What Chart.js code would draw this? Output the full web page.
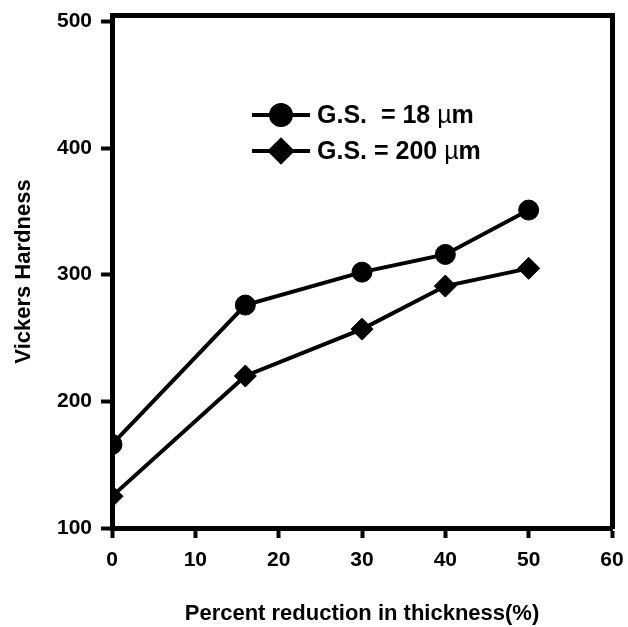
<!DOCTYPE html>
<html>
<head>
<meta charset="utf-8">
<script src="https://cdn.jsdelivr.net/npm/chart.js@4.4.1/dist/chart.umd.min.js"></script>
<style>
  html, body { margin: 0; padding: 0; background: #fff; }
  #wrap { width: 628px; height: 627px; position: relative; }
</style>
</head>
<body>
<div id="wrap"><canvas id="chart"></canvas></div>
<script>
// Vickers hardness vs percent reduction in thickness
const reductionFine   = [0, 16, 30, 40, 50];
const hardnessFine    = [166, 276, 302, 316, 351];
const reductionCoarse = [0, 16, 30, 40, 50];
const hardnessCoarse  = [125, 220, 257, 291, 305];

const seriesLabels = ['G.S.  = 18 ', 'G.S. = 200 '];
const unitLabel = ['\u00b5', 'm'];
const xTicks = [0, 10, 20, 30, 40, 50, 60];
const yTicks = [100, 200, 300, 400, 500];

const FONT = '"Liberation Sans", Arial, sans-serif';

// legend drawn inside the plot, like the original figure
const insideLegend = {
  id: 'insideLegend',
  afterDatasetsDraw(chart) {
    const ctx = chart.ctx;
    const x0 = 252, x1 = 310, tx = 317;
    const rows = [115, 151];
    ctx.save();
    chart.data.datasets.forEach((ds, i) => {
      const y = rows[i];
      ctx.strokeStyle = '#000';
      ctx.lineWidth = 4;
      ctx.beginPath();
      ctx.moveTo(x0, y);
      ctx.lineTo(x1, y);
      ctx.stroke();
      ctx.fillStyle = '#000';
      Chart.helpers.drawPoint(ctx, { pointStyle: ds.pointStyle, radius: ds.pointRadius, borderWidth: 1, rotation: 0 }, (x0 + x1) / 2, y);
      ctx.textBaseline = 'middle';
      ctx.textAlign = 'left';
      let x = tx;
      ctx.font = 'bold 25px ' + FONT;
      ctx.fillText(ds.label, x, y + 1);
      x += ctx.measureText(ds.label).width;
      ctx.font = '25px ' + FONT;
      ctx.fillText(unitLabel[0], x, y + 1);
      x += ctx.measureText(unitLabel[0]).width;
      ctx.font = 'bold 25px ' + FONT;
      ctx.fillText(unitLabel[1], x, y + 1);
    });
    ctx.restore();
  }
};

function pts(xs, ys) { return xs.map((x, i) => ({ x, y: ys[i] })); }

new Chart(document.getElementById('chart'), {
  type: 'line',
  data: {
    datasets: [
      { label: seriesLabels[0], data: pts(reductionFine, hardnessFine), borderColor: '#000', backgroundColor: '#000',
        borderWidth: 4, pointStyle: 'circle', pointRadius: 10, pointBorderWidth: 1, tension: 0 },
      { label: seriesLabels[1], data: pts(reductionCoarse, hardnessCoarse), borderColor: '#000', backgroundColor: '#000',
        borderWidth: 4, pointStyle: 'rectRot', pointRadius: 11, pointBorderWidth: 1, tension: 0 }
    ]
  },
  options: {
    responsive: true,
    maintainAspectRatio: false,
    animation: false,
    layout: { padding: 0 },
    plugins: { legend: { display: false }, tooltip: { enabled: false } },
    scales: {
      x: {
        type: 'linear', position: 'bottom', min: 0, max: 60,
        afterBuildTicks: s => { s.ticks = xTicks.map(v => ({ value: v })); },
        afterFit: s => { s.height = 99; s.paddingRight = 0; s.paddingLeft = 0; },
        border: { display: true, color: '#000', width: 5 },
        grid: { drawOnChartArea: false, drawTicks: true, tickLength: 10, tickWidth: 4, tickColor: '#000' },
        ticks: { color: '#000', padding: 10, font: { family: FONT, size: 21, weight: 'bold' } },
        title: { display: true, text: 'Percent reduction in thickness(%)', color: '#000', padding: { top: 0, bottom: 0 },
                 font: { family: FONT, size: 22, weight: 'bold' } }
      },
      y: {
        type: 'linear', position: 'left', min: 100, max: 505,
        afterBuildTicks: s => { s.ticks = yTicks.map(v => ({ value: v })); },
        afterFit: s => { s.width = 112; s.paddingTop = 0; s.paddingBottom = 0; },
        border: { display: true, color: '#000', width: 5 },
        grid: { drawOnChartArea: false, drawTicks: true, tickLength: 11, tickWidth: 4, tickColor: '#000' },
        ticks: { color: '#000', padding: 9, font: { family: FONT, size: 21, weight: 'bold' } },
        title: { display: true, text: 'Vickers Hardness', color: '#000', padding: { top: 11, bottom: 0 },
                 font: { family: FONT, size: 22, weight: 'bold' } }
      },
      xTop: {
        type: 'linear', position: 'top', min: 0, max: 60,
        afterFit: s => { s.height = 15; },
        border: { display: true, color: '#000', width: 5 },
        grid: { display: false }, ticks: { display: false }
      },
      yRight: {
        type: 'linear', position: 'right', min: 100, max: 505,
        afterFit: s => { s.width = 16; },
        border: { display: true, color: '#000', width: 5 },
        grid: { display: false }, ticks: { display: false }
      }
    }
  },
  plugins: [insideLegend]
});
</script>
</body>
</html>
